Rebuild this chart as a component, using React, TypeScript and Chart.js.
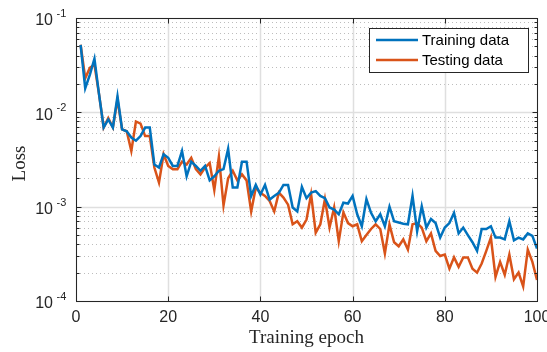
import React, { useEffect, useRef } from "react";
import { Chart, registerables } from "chart.js";

Chart.register(...registerables);

const epochs: number[] = Array.from({ length: 100 }, (_, i) => i + 1);

const trainingLoss: number[] = [
  0.052, 0.018, 0.025, 0.037, 0.0155, 0.0069, 0.0084, 0.0069, 0.0148, 0.0066,
  0.0063, 0.0054, 0.005, 0.0056, 0.0069, 0.0069, 0.0028, 0.0026, 0.0036, 0.0033,
  0.0027, 0.0027, 0.0039, 0.0021, 0.003, 0.0027, 0.0024, 0.0027, 0.0019, 0.0021,
  0.0024, 0.0025, 0.0041, 0.0016, 0.0016, 0.003, 0.003, 0.0013, 0.0017, 0.00134,
  0.0017, 0.00119, 0.0013, 0.0014, 0.0017, 0.0017, 0.00098, 0.00089, 0.00162, 0.00123,
  0.00141, 0.00146, 0.0013, 0.00123, 0.00098, 0.00093, 0.00083, 0.0011, 0.00108, 0.0013,
  0.00083, 0.00062, 0.0012, 0.00086, 0.0007, 0.00083, 0.00062, 0.001, 0.0007, 0.00068,
  0.00066, 0.00065, 0.0013, 0.00055, 0.00101, 0.0006, 0.00074, 0.00067, 0.00047, 0.0006,
  0.00067, 0.00086, 0.00052, 0.0006, 0.0005, 0.00042, 0.00034, 0.00058, 0.00058, 0.00062,
  0.00047, 0.00047, 0.00045, 0.0007, 0.00044, 0.00047, 0.00045, 0.00052, 0.00049, 0.00036,
];

const testingLoss: number[] = [
  0.052, 0.023, 0.0296, 0.032, 0.0155, 0.0069, 0.0087, 0.0069, 0.0137, 0.0066,
  0.0063, 0.0039, 0.008, 0.0076, 0.0056, 0.0056, 0.0026, 0.0018, 0.0036, 0.0027,
  0.0025, 0.0025, 0.003, 0.0028, 0.0033, 0.0025, 0.0022, 0.0026, 0.0029, 0.0015,
  0.0034, 0.00103, 0.002, 0.0024, 0.0019, 0.0022, 0.0019, 0.00089, 0.0016, 0.0014,
  0.0013, 0.00115, 0.00089, 0.00141, 0.00125, 0.00105, 0.00065, 0.0007, 0.0006, 0.00073,
  0.00135, 0.00053, 0.00065, 0.0012, 0.0006, 0.00098, 0.00043, 0.00087, 0.00067, 0.00062,
  0.00065, 0.00043, 0.0005, 0.00058, 0.00065, 0.00058, 0.00032, 0.00065, 0.00042, 0.00038,
  0.00045, 0.00035, 0.00065, 0.00067, 0.0006, 0.00043, 0.00052, 0.00034, 0.0003, 0.00031,
  0.00022, 0.00029, 0.00023, 0.00029, 0.00029, 0.00022, 0.0002, 0.00025, 0.00034, 0.00047,
  0.00018, 0.00026, 0.00019, 0.00031, 0.00017, 0.0002, 0.000143, 0.00035, 0.00026, 0.000167,
];

const xTicks: number[] = [0, 20, 40, 60, 80, 100];
const yExponents: number[] = [-4, -3, -2, -1];
const seriesNames: string[] = ["Training data", "Testing data"];
const seriesColors: string[] = ["#0072BD", "#D95319"];
const xTitle = "Training epoch";
const yTitle = "Loss";

const AXIS = "#262626";
const SANS = "'Liberation Sans', Arial, sans-serif";
const SERIF = "'Liberation Serif', 'DejaVu Serif', serif";

const matlabPlugin = {
  id: "matlabAxes",
  beforeDatasetsDraw(chart: any) {
    const { ctx, chartArea: a, scales } = chart;
    const x = scales.x;
    const y = scales.y;
    ctx.save();
    ctx.strokeStyle = "#bdbdbd";
    ctx.lineWidth = 1;
    ctx.setLineDash([1, 3]);
    for (const e of yExponents.slice(0, 3)) {
      for (let m = 2; m <= 9; m++) {
        const py = Math.round(y.getPixelForValue(m * Math.pow(10, e))) + 0.5;
        ctx.beginPath();
        ctx.moveTo(a.left, py);
        ctx.lineTo(a.right, py);
        ctx.stroke();
      }
    }
    ctx.setLineDash([]);
    ctx.strokeStyle = "#dfdfdf";
    ctx.lineWidth = 1.5;
    for (const e of yExponents) {
      const py = Math.round(y.getPixelForValue(Math.pow(10, e))) + 0.5;
      ctx.beginPath();
      ctx.moveTo(a.left, py);
      ctx.lineTo(a.right, py);
      ctx.stroke();
    }
    for (const t of xTicks) {
      const px = Math.round(x.getPixelForValue(t)) + 0.5;
      ctx.beginPath();
      ctx.moveTo(px, a.top);
      ctx.lineTo(px, a.bottom);
      ctx.stroke();
    }
    ctx.restore();
  },
  afterDatasetsDraw(chart: any) {
    const { ctx, chartArea: a, scales } = chart;
    const x = scales.x;
    const y = scales.y;
    ctx.save();
    ctx.strokeStyle = AXIS;
    ctx.lineWidth = 1;
    const L = Math.round(a.left) + 0.5;
    const R = Math.round(a.right) + 0.5;
    const T = Math.round(a.top) + 0.5;
    const B = Math.round(a.bottom) + 0.5;
    ctx.strokeRect(L, T, R - L, B - T);
    for (const t of xTicks) {
      const px = Math.round(x.getPixelForValue(t)) + 0.5;
      ctx.beginPath();
      ctx.moveTo(px, B);
      ctx.lineTo(px, B - 5);
      ctx.moveTo(px, T);
      ctx.lineTo(px, T + 5);
      ctx.stroke();
    }
    for (const e of yExponents) {
      const py = Math.round(y.getPixelForValue(Math.pow(10, e))) + 0.5;
      ctx.beginPath();
      ctx.moveTo(L, py);
      ctx.lineTo(L + 5, py);
      ctx.moveTo(R, py);
      ctx.lineTo(R - 5, py);
      ctx.stroke();
      if (e < -1) {
        for (let m = 2; m <= 9; m++) {
          const pm = Math.round(y.getPixelForValue(m * Math.pow(10, e))) + 0.5;
          ctx.beginPath();
          ctx.moveTo(L, pm);
          ctx.lineTo(L + 3, pm);
          ctx.moveTo(R, pm);
          ctx.lineTo(R - 3, pm);
          ctx.stroke();
        }
      }
    }
    ctx.fillStyle = AXIS;
    ctx.font = "16px " + SANS;
    ctx.textAlign = "center";
    ctx.textBaseline = "middle";
    for (const t of xTicks) {
      ctx.fillText(String(t), x.getPixelForValue(t), a.bottom + 17);
    }
    for (const e of yExponents) {
      const py = y.getPixelForValue(Math.pow(10, e));
      ctx.font = "16px " + SANS;
      ctx.textAlign = "right";
      ctx.textBaseline = "middle";
      ctx.fillText("10", 53, py + 3);
      ctx.font = "11px " + SANS;
      ctx.textAlign = "left";
      ctx.fillText(String(e), 56.5, py - 4);
    }
    ctx.font = "19px " + SERIF;
    ctx.textAlign = "center";
    ctx.textBaseline = "middle";
    ctx.fillText(xTitle, (a.left + a.right) / 2, 338);
    ctx.save();
    ctx.translate(20, (a.top + a.bottom) / 2 + 4);
    ctx.rotate(-Math.PI / 2);
    ctx.fillText(yTitle, 0, 0);
    ctx.restore();
    const lx = 369.5, ly = 28.5, lw = 159, lh = 44;
    ctx.fillStyle = "#ffffff";
    ctx.fillRect(lx, ly, lw, lh);
    ctx.strokeStyle = AXIS;
    ctx.lineWidth = 1;
    ctx.strokeRect(lx, ly, lw, lh);
    ctx.font = "15px " + SANS;
    ctx.textAlign = "left";
    ctx.textBaseline = "middle";
    seriesNames.forEach((name, i) => {
      const yy = 40 + i * 20;
      ctx.strokeStyle = seriesColors[i];
      ctx.lineWidth = 2.5;
      ctx.beginPath();
      ctx.moveTo(376, yy);
      ctx.lineTo(418, yy);
      ctx.stroke();
      ctx.fillStyle = "#000000";
      ctx.fillText(name, 422, yy + 1);
    });
    ctx.restore();
  },
};

export default function App() {
  const ref = useRef<HTMLCanvasElement | null>(null);
  useEffect(() => {
    if (!ref.current) return;
    const chart = new Chart(ref.current, {
      type: "line",
      data: {
        datasets: [
          {
            label: seriesNames[0],
            data: epochs.map((e, i) => ({ x: e, y: trainingLoss[i] })),
            borderColor: seriesColors[0],
            borderWidth: 2.5,
            pointRadius: 0,
            fill: false,
            tension: 0,
          },
          {
            label: seriesNames[1],
            data: epochs.map((e, i) => ({ x: e, y: testingLoss[i] })),
            borderColor: seriesColors[1],
            borderWidth: 2.5,
            pointRadius: 0,
            fill: false,
            tension: 0,
          },
        ],
      },
      options: {
        responsive: false,
        animation: false,
        layout: { padding: { left: 76, right: 10, top: 18, bottom: 51 } },
        plugins: { legend: { display: false }, tooltip: { enabled: false } },
        scales: {
          x: { type: "linear", min: 0, max: 100, display: false },
          y: { type: "logarithmic", min: 1e-4, max: 1e-1, display: false },
        },
      },
      plugins: [matlabPlugin],
    } as any);
    return () => chart.destroy();
  }, []);
  return (
    <div style={{ position: "fixed", left: 0, top: 0, width: 547, height: 352, background: "#fff" }}>
      <canvas ref={ref} width={547} height={352} style={{ display: "block" }} />
    </div>
  );
}
